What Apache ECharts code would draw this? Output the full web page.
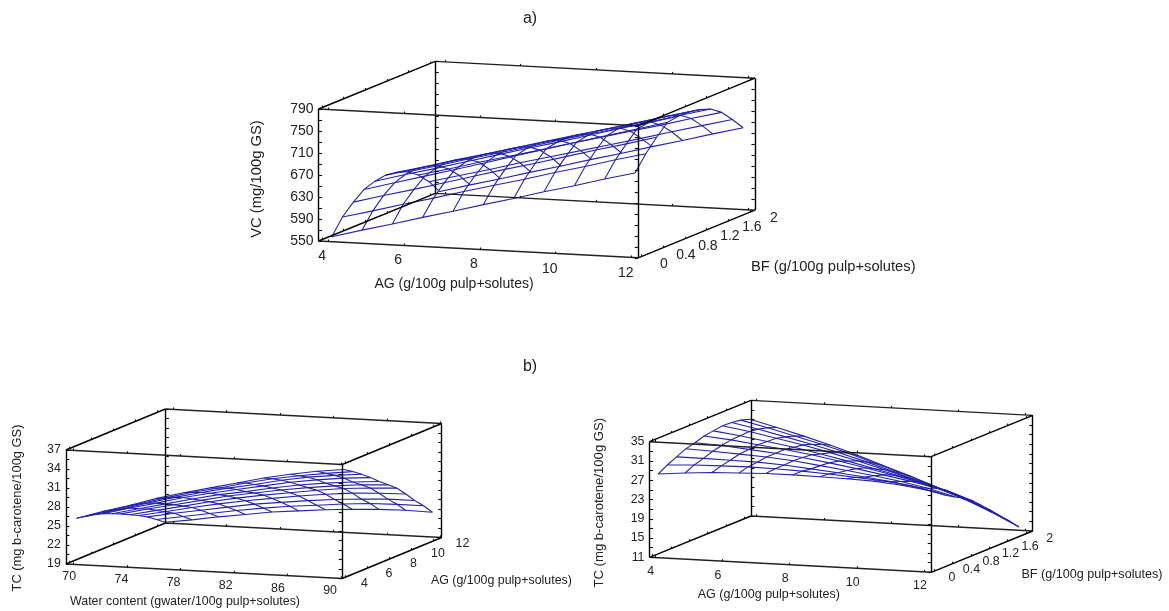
<!DOCTYPE html>
<html>
<head>
<meta charset="utf-8">
<style>html,body{margin:0;padding:0;background:#fff}#c{width:1169px;height:611px}</style>
<script src="https://cdn.jsdelivr.net/npm/echarts@6/dist/echarts.min.js"></script>
</head>
<body>
<div id="c"></div>
<script>
// ---- data ----
const agSteps = [4,4.8,5.6,6.4,7.2,8,8.8,9.6,10.4,11.2,12];
const bfSteps = [0,0.2,0.4,0.6,0.8,1,1.2,1.4,1.6,1.8,2];
const wcSteps = [70,72,74,76,78,80,82,84,86,88,90];

// rows: AG steps, columns: BF steps
const vcGrid = [
 [556,584,603,618,625,628,625,618,604,584,558],
 [571,598,618,633,640,642,639,632,618,598,573],
 [585,613,632,648,654,657,654,647,633,612,587],
 [600,627,647,663,669,671,668,661,647,627,602],
 [614,642,662,678,684,686,682,675,661,641,616],
 [629,656,677,694,699,700,697,690,676,655,631],
 [643,670,691,709,713,714,711,704,690,669,645],
 [658,685,706,724,728,729,725,718,704,683,660],
 [672,699,721,739,743,743,739,732,718,698,674],
 [687,714,735,754,757,758,754,747,733,712,689],
 [701,728,750,769,772,772,768,761,747,726,703]
];
// rows: water content steps, columns: AG steps
const tcWaterGrid = [
 [26.1,25.8,25.5,25.1,24.5,23.9,23.2,22.5,21.7,20.7,19.7],
 [27.4,27.0,26.6,26.2,25.5,24.9,24.1,23.3,22.5,21.4,20.3],
 [28.6,28.2,27.8,27.2,26.5,25.8,25.0,24.2,23.2,22.1,21.0],
 [29.9,29.4,28.9,28.3,27.5,26.7,25.9,25.0,23.9,22.8,21.6],
 [31.0,30.5,29.9,29.2,28.4,27.6,26.7,25.7,24.6,23.4,22.2],
 [32.0,31.4,30.8,30.0,29.1,28.3,27.4,26.3,25.1,23.9,22.6],
 [33.0,32.4,31.6,30.8,29.9,29.0,28.0,26.9,25.6,24.3,23.0],
 [34.0,33.3,32.5,31.6,30.6,29.6,28.6,27.4,26.0,24.7,23.3],
 [34.8,34.0,33.2,32.2,31.1,30.1,29.1,27.8,26.3,25.0,23.5],
 [35.5,34.6,33.7,32.7,31.5,30.5,29.4,28.0,26.5,25.1,23.6],
 [36.0,35.1,34.1,33.0,31.8,30.7,29.6,28.1,26.5,25.1,23.5]
];
// rows: AG steps, columns: BF steps
const tcBfGrid = [
 [28.1,29.2,30.1,31.0,31.5,32.1,32.4,32.7,32.6,32.3,31.7],
 [28.6,29.5,30.1,30.8,31.2,31.6,31.7,31.8,31.5,31.0,30.3],
 [29.0,29.6,30.0,30.5,30.7,30.9,30.8,30.7,30.2,29.6,28.8],
 [29.2,29.7,29.9,30.2,30.2,30.2,29.9,29.6,28.9,28.2,27.2],
 [29.4,29.6,29.6,29.7,29.6,29.4,28.8,28.3,27.5,26.6,25.4],
 [29.4,29.4,29.1,29.0,28.8,28.4,27.6,26.9,25.9,24.8,23.5],
 [29.3,29.1,28.6,28.3,27.9,27.3,26.3,25.4,24.2,23.0,21.6],
 [29.2,28.7,28.0,27.5,26.9,26.1,25.0,23.8,22.4,21.1,19.5],
 [29.0,28.3,27.3,26.6,25.9,24.9,23.5,22.2,20.6,19.1,17.4],
 [28.5,27.6,26.4,25.5,24.7,23.5,21.9,20.3,18.6,16.9,15.0],
 [27.7,26.5,25.1,24.0,23.0,21.6,19.8,18.0,16.1,14.3,12.3]
];

const vcTicks = [550,590,630,670,710,750,790];
const tcWaterTicks = [19,22,25,28,31,34,37];
const tcBfTicks = [11,15,19,23,27,31,35];
const agTicks = [4,6,8,10,12];
const agTicksShort = [4,6,8,10,12];
const bfTicks = [0,0.4,0.8,1.2,1.6,2];
const wcTicks = [70,74,78,82,86,90];

// ---- panel layout: an oblique box that maps data to page pixels ----
const panels = [
 {
  o:[318.6,241], ex:[319.6,16.8], ey:[116.7,-47.6], ez:[0,-132],
  xr:[3.747,12.177], yr:[-0.065,2.093], zr:[550,790],
  xs:agSteps, ys:bfSteps, zs:vcGrid,
  xt:agTicks, yt:bfTicks, zt:vcTicks, zMinor:20,
  xo:[[-6,15],[-5.8,15.3]], yo:[[22.2,7.6],[24,6]],
  font:14, zGap:5,
  xTitle:['AG (g/100g pulp+solutes)',454,284.3,'center',0,14],
  yTitle:['BF (g/100g pulp+solutes)',751,267,'left',0,14.7],
  zTitle:['VC (mg/100g GS)',256.8,179,'center',1,14.8]
 },
 {
  o:[65.9,564], ex:[276.3,14.5], ey:[99.5,-41], ez:[0,-114],
  xr:[69.42,90.1], yr:[3.73,12.72], zr:[19,37],
  xs:wcSteps, ys:agSteps, zs:tcWaterGrid,
  xt:wcTicks, yt:agTicks, zt:tcWaterTicks, zMinor:1.5,
  xo:[[-4.4,12.3],[-10.8,12.6]], yo:[[19.2,6.7],[28.7,3.2]],
  font:12.4, zGap:5,
  xTitle:['Water content (gwater/100g pulp+solutes)',185,601.7,'center',0,12.4],
  yTitle:['AG (g/100g pulp+solutes)',431,580.7,'left',0,12.4],
  zTitle:['TC (mg b-carotene/100g GS)',17.8,508,'center',1,12.9]
 },
 {
  o:[649.5,557.3], ex:[281.7,15], ey:[101.5,-41.3], ez:[0,-115.6],
  xr:[3.832,12.209], yr:[-0.066,2.144], zr:[11,35],
  xs:agSteps, ys:bfSteps, zs:tcBfGrid,
  xt:agTicksShort, yt:bfTicks, zt:tcBfTicks, zMinor:2,
  xo:[[-4.5,14.1],[-4.2,14.1]], yo:[[17.7,6.6],[23.6,4.6]],
  font:12.4, zGap:5,
  xTitle:['AG (g/100g pulp+solutes)',768.8,595,'center',0,12.5],
  yTitle:['BF (g/100g pulp+solutes)',1021.4,575,'left',0,12.6],
  zTitle:['TC (mg b-carotene/100g GS)',599.5,502.7,'center',1,13.1]
 }
];
const headings = [['a)',530,19],['b)',530,367]];

// ---- projection ----
function frac(v,r){return (v-r[0])/(r[1]-r[0]);}
function project(p,x,y,z){
  const a=frac(x,p.xr), b=frac(y,p.yr), c=frac(z,p.zr);
  return [p.o[0]+a*p.ex[0]+b*p.ey[0]+c*p.ez[0], p.o[1]+a*p.ex[1]+b*p.ey[1]+c*p.ez[1]];
}
function shift(pt,dx,dy){return [pt[0]+dx,pt[1]+dy];}

const surfaceSeries=[], boxLines=[], tickLines=[], texts=[];
const FF='"Liberation Sans", Arial, sans-serif';

panels.forEach(p=>{
  const mesh=[];
  p.xs.forEach((x,i)=>mesh.push({coords:p.ys.map((y,k)=>project(p,x,y,p.zs[i][k]))}));
  p.ys.forEach((y,k)=>mesh.push({coords:p.xs.map((x,i)=>project(p,x,y,p.zs[i][k]))}));
  surfaceSeries.push({type:'lines',coordinateSystem:'cartesian2d',polyline:true,silent:true,z:3,
    lineStyle:{color:'#2222ae',width:1.1,opacity:1},data:mesh});

  const [x0,x1]=p.xr,[y0,y1]=p.yr,[z0,z1]=p.zr;
  // vertical edges
  [[x0,y0],[x1,y0],[x0,y1],[x1,y1]].forEach(c=>{
    boxLines.push({coords:[project(p,c[0],c[1],z0),project(p,c[0],c[1],z1)],lineStyle:{color:'#000',width:1.4,opacity:1}});
  });
  // horizontal edges
  [z0,z1].forEach(z=>{
    [y0,y1].forEach(y=>boxLines.push({coords:[project(p,x0,y,z),project(p,x1,y,z)],lineStyle:{color:'#222',width:1.4,opacity:1}}));
    [x0,x1].forEach(x=>boxLines.push({coords:[project(p,x,y0,z),project(p,x,y1,z)],lineStyle:{color:'#000',width:1.4,opacity:1}}));
  });
  // ticks on the vertical edges
  for(let z=z0;z<=z1+1e-6;z+=p.zMinor){
    [[x0,y0,1],[x0,y1,1],[x1,y0,-1],[x1,y1,-1]].forEach(c=>{
      const a=project(p,c[0],c[1],z);
      tickLines.push({coords:[a,shift(a,3.5*c[2],0)]});
    });
  }
  // ticks on the floor and roof edges
  [z0,z1].forEach(z=>{
    p.xt.forEach(v=>[y0,y1].forEach(y=>{const a=project(p,v,y,z);tickLines.push({coords:[a,shift(a,0,-2)]});}));
    p.yt.forEach(v=>[x0,x1].forEach(x=>{const a=project(p,x,v,z);tickLines.push({coords:[a,shift(a,0,-2)]});}));
  });
  // tick labels
  const lerp=(o,t)=>[o[0][0]+(o[1][0]-o[0][0])*t,o[0][1]+(o[1][1]-o[0][1])*t];
  p.xt.forEach((v,i)=>{
    const t=i/(p.xt.length-1), o=lerp(p.xo,t), a=project(p,v,y0,z0);
    texts.push([a[0]+o[0],a[1]+o[1],String(v),'center',0,p.font]);
  });
  p.yt.forEach((v,i)=>{
    const t=i/(p.yt.length-1), o=lerp(p.yo,t), a=project(p,x1,v,z0);
    texts.push([a[0]+o[0],a[1]+o[1],String(v),'center',0,p.font]);
  });
  p.zt.forEach(v=>{
    const a=project(p,x0,y0,v);
    texts.push([a[0]-p.zGap,a[1],String(v),'right',0,p.font]);
  });
  [p.xTitle,p.yTitle,p.zTitle].forEach(t=>texts.push([t[1],t[2],t[0],t[3],t[4],t[5]]));
});
headings.forEach(h=>texts.push([h[1],h[2],h[0],'center',0,16]));

const chart=echarts.init(document.getElementById('c'),null,{renderer:'canvas',width:1169,height:611});
chart.setOption({
  animation:false,
  backgroundColor:'#fff',
  grid:{left:0,right:0,top:0,bottom:0},
  xAxis:{type:'value',min:0,max:1169,show:false},
  yAxis:{type:'value',min:0,max:611,inverse:true,show:false},
  series:[
    ...surfaceSeries,
    {type:'lines',coordinateSystem:'cartesian2d',polyline:false,silent:true,z:4,data:boxLines},
    {type:'lines',coordinateSystem:'cartesian2d',polyline:false,silent:true,z:4,lineStyle:{color:'#111',width:1.1,opacity:1},data:tickLines},
    {type:'custom',coordinateSystem:'cartesian2d',silent:true,z:5,clip:false,
     encode:{x:0,y:1},
     data:texts,
     renderItem:function(params,api){
       const t=texts[params.dataIndex];
       const c=api.coord([t[0],t[1]]);
       return {type:'text',x:c[0],y:c[1],rotation:t[4]?Math.PI/2:0,
         style:{text:t[2],align:t[3],verticalAlign:'middle',fill:'#222',
                font:t[5]+'px '+FF}};
     }}
  ]
});
</script>
</body>
</html>
